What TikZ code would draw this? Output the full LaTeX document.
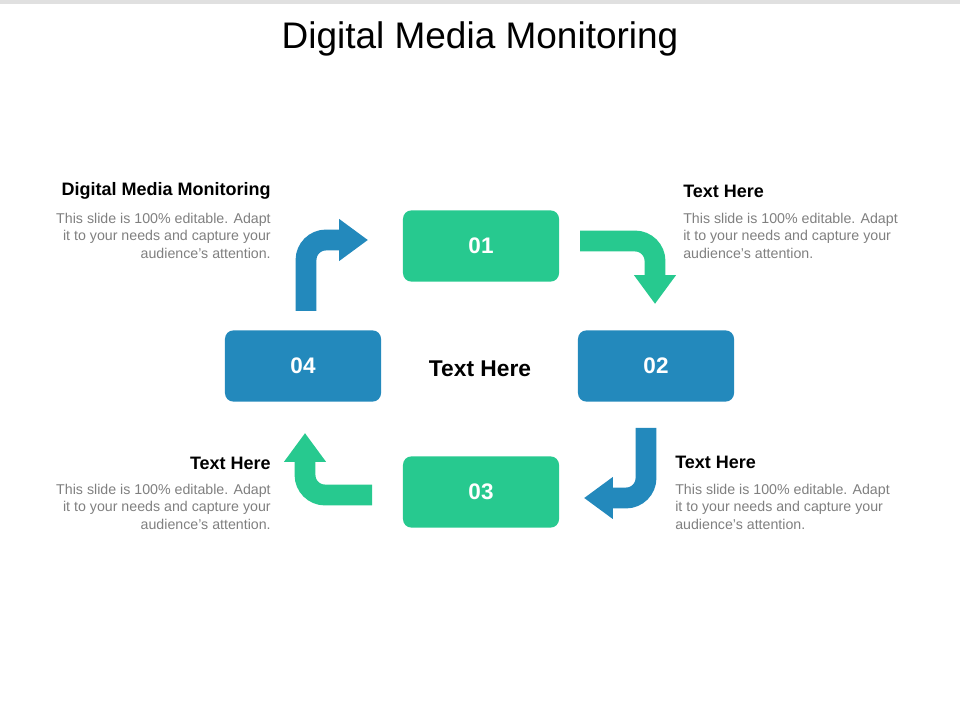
\documentclass[tikz,border=0pt]{standalone}
\usepackage{fontspec}
\setmainfont{Liberation Sans}
\usetikzlibrary{arrows.meta}
\definecolor{stepgreen}{HTML}{27C98F}
\definecolor{stepblue}{HTML}{2389BC}
\definecolor{bodygray}{HTML}{7F7F7F}
\begin{document}
\begin{tikzpicture}[x=0.025cm, y=-0.025cm,
    numbox/.style={rounded corners=6pt, minimum width=3.9cm, minimum height=1.78cm,
                   text=white, font=\fontsize{16}{18}\selectfont\bfseries},
    flow/.style={line width=0.52cm, rounded corners=0.5cm,
                 -{Triangle[length=0.72cm, width=1.0cm]}},
    head/.style={inner sep=0pt, font=\fontsize{12.8}{15}\selectfont\bfseries},
    body/.style={inner sep=0pt, font=\fontsize{10.1}{12.3}\selectfont, text=bodygray},
  ]
  \useasboundingbox (0,0) rectangle (960,720);
  \fill[black!12] (0,0) rectangle (960,4);
  \node (title) at (480,39) {\fontsize{26.3}{30}\selectfont Digital Media Monitoring};

  % Boxes
  \node[numbox, fill=stepgreen] (b1) at (481,246) {01};
  \node[numbox, fill=stepblue]  (b2) at (656,366) {02};
  \node[numbox, fill=stepgreen] (b3) at (481,492) {03};
  \node[numbox, fill=stepblue]  (b4) at (303,366) {04};
  \node[font=\fontsize{16.2}{18}\selectfont\bfseries] (center) at (480,369) {Text Here};

  % Arrows
  \coordinate (a1s) at (580,241); \coordinate (a1e) at (655,304);
  \coordinate (a2s) at (646,428); \coordinate (a2e) at (584,498);
  \coordinate (a3s) at (372,495); \coordinate (a3e) at (305,433);
  \coordinate (a4s) at (306,311); \coordinate (a4e) at (368,240);
  \draw[flow, stepgreen] (a1s) -| (a1e);
  \draw[flow, stepblue]  (a2s) |- (a2e);
  \draw[flow, stepgreen] (a3s) -| (a3e);
  \draw[flow, stepblue]  (a4s) |- (a4e);

  % Text blocks
  \node[head, anchor=east] (h1) at (271,191) {Digital Media Monitoring};
  \node[body, anchor=north east, align=right] (t1) at (271,213)
    {This slide is 100\% editable. Adapt\\it to your needs and capture your\\audience's attention.};
  \node[head, anchor=west] (h2) at (683,191) {Text Here};
  \node[body, anchor=north west, align=left] (t2) at (683,213)
    {This slide is 100\% editable. Adapt\\it to your needs and capture your\\audience's attention.};
  \node[head, anchor=west] (h3) at (675,462) {Text Here};
  \node[body, anchor=north west, align=left] (t3) at (675,484)
    {This slide is 100\% editable. Adapt\\it to your needs and capture your\\audience's attention.};
  \node[head, anchor=east] (h4) at (271,463) {Text Here};
  \node[body, anchor=north east, align=right] (t4) at (271,484)
    {This slide is 100\% editable. Adapt\\it to your needs and capture your\\audience's attention.};
\end{tikzpicture}
\end{document}
